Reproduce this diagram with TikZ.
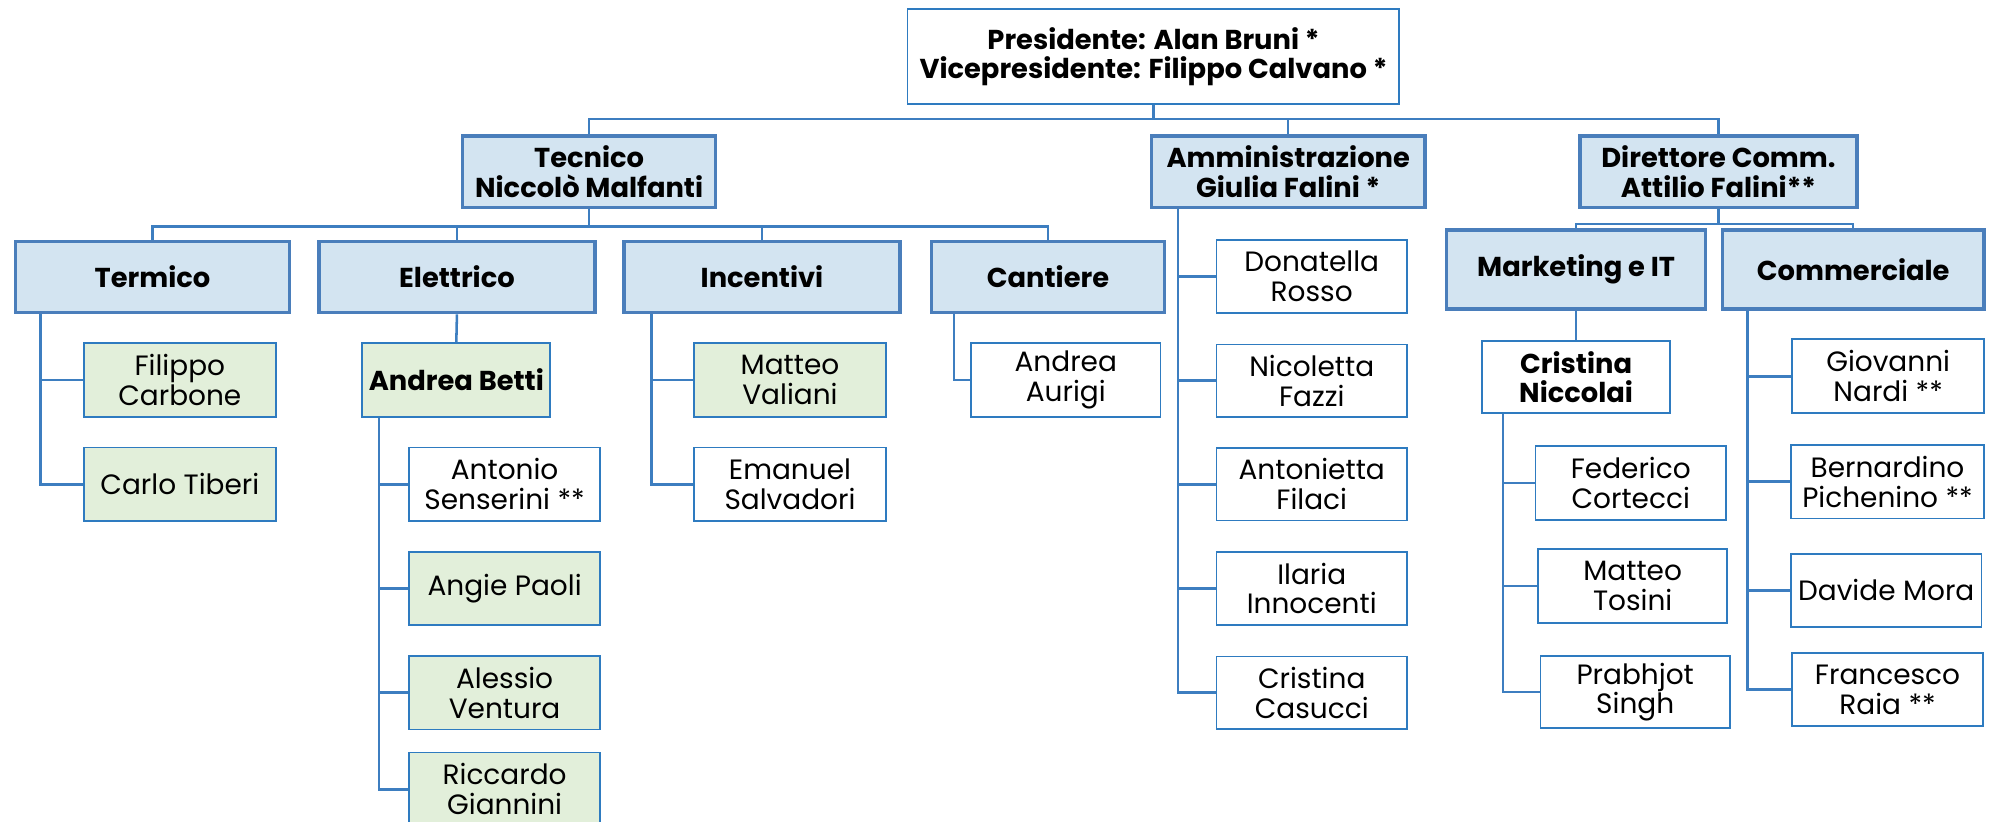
\documentclass[tikz,border=0pt]{standalone}
\usepackage{fontspec}
\setmainfont{Poppins}
\definecolor{bord}{HTML}{4A7EBB}
\definecolor{pbord}{HTML}{2E7BC0}
\definecolor{cbord}{HTML}{3D7EC0}
\definecolor{lblue}{HTML}{D3E4F1}
\definecolor{lgreen}{HTML}{E2EFDA}
\newcommand{\regfont}{\fontsize{22}{23.5}\selectfont}
\newcommand{\boldfont}{\fontsize{21.5}{23}\selectfont\bfseries}
\tikzset{
  box/.style={draw=bord, rectangle, inner sep=0pt, align=center, font=\regfont},
  lvl/.style={box, fill=lblue, line width=2.6pt, font=\boldfont},
  topbox/.style={box, draw=pbord, fill=white, line width=1.5pt, font=\boldfont},
  pers/.style={box, draw=pbord, fill=white, line width=1.4pt},
  persg/.style={box, draw=pbord, fill=lgreen, line width=1.4pt},
  conn/.style={draw=cbord, line width=2pt},
}
\begin{document}
\begin{tikzpicture}[x=1pt,y=-1pt]
\useasboundingbox[fill=white] (0,0) rectangle (1568,646);
% top
\node[topbox, minimum width=387pt, minimum height=75pt] (top) at (907.5,44.5) {Presidente: Alan Bruni *\\Vicepresidente: Filippo Calvano *};
% level 1
\node[lvl, minimum width=199pt, minimum height=56pt] (tec) at (463.5,135) {Tecnico\\Niccolò Malfanti};
\node[lvl, minimum width=215pt, minimum height=56pt] (amm) at (1013.5,135) {Amministrazione\\Giulia Falini *};
\node[lvl, minimum width=218pt, minimum height=56pt] (dir) at (1352,135) {Direttore Comm.\\Attilio Falini**};
% level 2 (tecnico)
\node[lvl, minimum width=216pt, minimum height=56pt] (ter) at (120,218) {Termico};
\node[lvl, minimum width=217pt, minimum height=56pt] (ele) at (359.5,218) {Elettrico};
\node[lvl, minimum width=217pt, minimum height=56pt] (inc) at (599.5,218) {Incentivi};
\node[lvl, minimum width=183pt, minimum height=56pt] (can) at (824.5,218) {Cantiere};
% level 2 (direttore)
\node[lvl, minimum width=204pt, minimum height=62pt] (mkt) at (1240,212) {Marketing e IT};
\node[lvl, minimum width=206pt, minimum height=62pt] (com) at (1458,212) {Commerciale};
% termico
\node[persg, minimum width=151pt, minimum height=58pt] (fc) at (141.5,299) {Filippo\\Carbone};
\node[persg, minimum width=151pt, minimum height=58pt] (ct) at (141.5,381) {Carlo Tiberi};
% elettrico
\node[persg, minimum width=148pt, minimum height=58pt, font=\boldfont] (ab) at (359,299) {Andrea Betti};
\node[pers, minimum width=150pt, minimum height=58pt] (as) at (397,381) {Antonio\\Senserini **};
\node[persg, minimum width=150pt, minimum height=58pt] (ap) at (397,463) {Angie Paoli};
\node[persg, minimum width=150pt, minimum height=58pt] (av) at (397,545) {Alessio\\Ventura};
\node[persg, minimum width=150pt, minimum height=58pt] (rg) at (397,621) {Riccardo\\Giannini};
% incentivi
\node[persg, minimum width=151pt, minimum height=58pt] (mv) at (621.5,299) {Matteo\\Valiani};
\node[pers, minimum width=151pt, minimum height=58pt] (es) at (621.5,381) {Emanuel\\Salvadori};
% cantiere
\node[pers, minimum width=149pt, minimum height=58pt] (aa) at (838.5,299) {Andrea\\Aurigi};
% amministrazione
\node[pers, minimum width=150pt, minimum height=57pt] (dr) at (1032,217.5) {Donatella\\Rosso};
\node[pers, minimum width=150pt, minimum height=57pt] (nf) at (1032,299.5) {Nicoletta\\Fazzi};
\node[pers, minimum width=150pt, minimum height=57pt] (af) at (1032,381) {Antonietta\\Filaci};
\node[pers, minimum width=150pt, minimum height=57pt] (ii) at (1032,463) {Ilaria\\Innocenti};
\node[pers, minimum width=150pt, minimum height=57pt] (cc) at (1032,545) {Cristina\\Casucci};
% marketing
\node[pers, minimum width=148pt, minimum height=57pt, font=\boldfont] (cn) at (1240,296.5) {Cristina\\Niccolai};
\node[pers, minimum width=150pt, minimum height=58pt] (fco) at (1283,380) {Federico\\Cortecci};
\node[pers, minimum width=149pt, minimum height=58pt] (mt) at (1284.5,461) {Matteo\\Tosini};
\node[pers, minimum width=149pt, minimum height=57pt] (ps) at (1286.5,544.5) {Prabhjot\\Singh};
% commerciale
\node[pers, minimum width=151pt, minimum height=58pt] (gn) at (1485.5,296) {Giovanni\\Nardi **};
\node[pers, minimum width=152pt, minimum height=58pt] (bp) at (1485,379) {Bernardino\\Pichenino **};
\node[pers, minimum width=150pt, minimum height=57pt] (dm) at (1484,464.5) {Davide Mora};
\node[pers, minimum width=150pt, minimum height=57pt] (fr) at (1485,542.5) {Francesco\\Raia **};
% connectors
\draw[conn] (top.south) -- ++(0,11) -| (tec.north);
\draw[conn] (top.south) -- ++(0,11) -| (amm.north);
\draw[conn] (top.south) -- ++(0,11) -| (dir.north);
\draw[conn] (tec.south) -- ++(0,14) -| (ter.north);
\draw[conn] (tec.south) -- ++(0,14) -| (ele.north);
\draw[conn] (tec.south) -- ++(0,14) -| (inc.north);
\draw[conn] (tec.south) -- ++(0,14) -| (can.north);
\draw[conn] (dir.south) -- ++(0,12) -| (mkt.north);
\draw[conn] (dir.south) -- ++(0,12) -| (com.north);
\draw[conn] ([xshift=21pt]ter.south west) |- (fc.west);
\draw[conn] ([xshift=21pt]ter.south west) |- (ct.west);
\draw[conn] (ele.south) -- (ab.north);
\draw[conn] ([xshift=14pt]ab.south west) |- (as.west);
\draw[conn] ([xshift=14pt]ab.south west) |- (ap.west);
\draw[conn] ([xshift=14pt]ab.south west) |- (av.west);
\draw[conn] ([xshift=14pt]ab.south west) |- (rg.west);
\draw[conn] ([xshift=23pt]inc.south west) |- (mv.west);
\draw[conn] ([xshift=23pt]inc.south west) |- (es.west);
\draw[conn] ([xshift=19pt]can.south west) |- (aa.west);
\draw[conn] ([xshift=22pt]amm.south west) |- (dr.west);
\draw[conn] ([xshift=22pt]amm.south west) |- (nf.west);
\draw[conn] ([xshift=22pt]amm.south west) |- (af.west);
\draw[conn] ([xshift=22pt]amm.south west) |- (ii.west);
\draw[conn] ([xshift=22pt]amm.south west) |- (cc.west);
\draw[conn] (mkt.south) -- (cn.north);
\draw[conn] ([xshift=17pt]cn.south west) |- (fco.west);
\draw[conn] ([xshift=17pt]cn.south west) |- (mt.west);
\draw[conn] ([xshift=17pt]cn.south west) |- (ps.west);
\draw[conn] ([xshift=21pt]com.south west) |- (gn.west);
\draw[conn] ([xshift=21pt]com.south west) |- (bp.west);
\draw[conn] ([xshift=21pt]com.south west) |- (dm.west);
\draw[conn] ([xshift=21pt]com.south west) |- (fr.west);
\end{tikzpicture}
\end{document}
